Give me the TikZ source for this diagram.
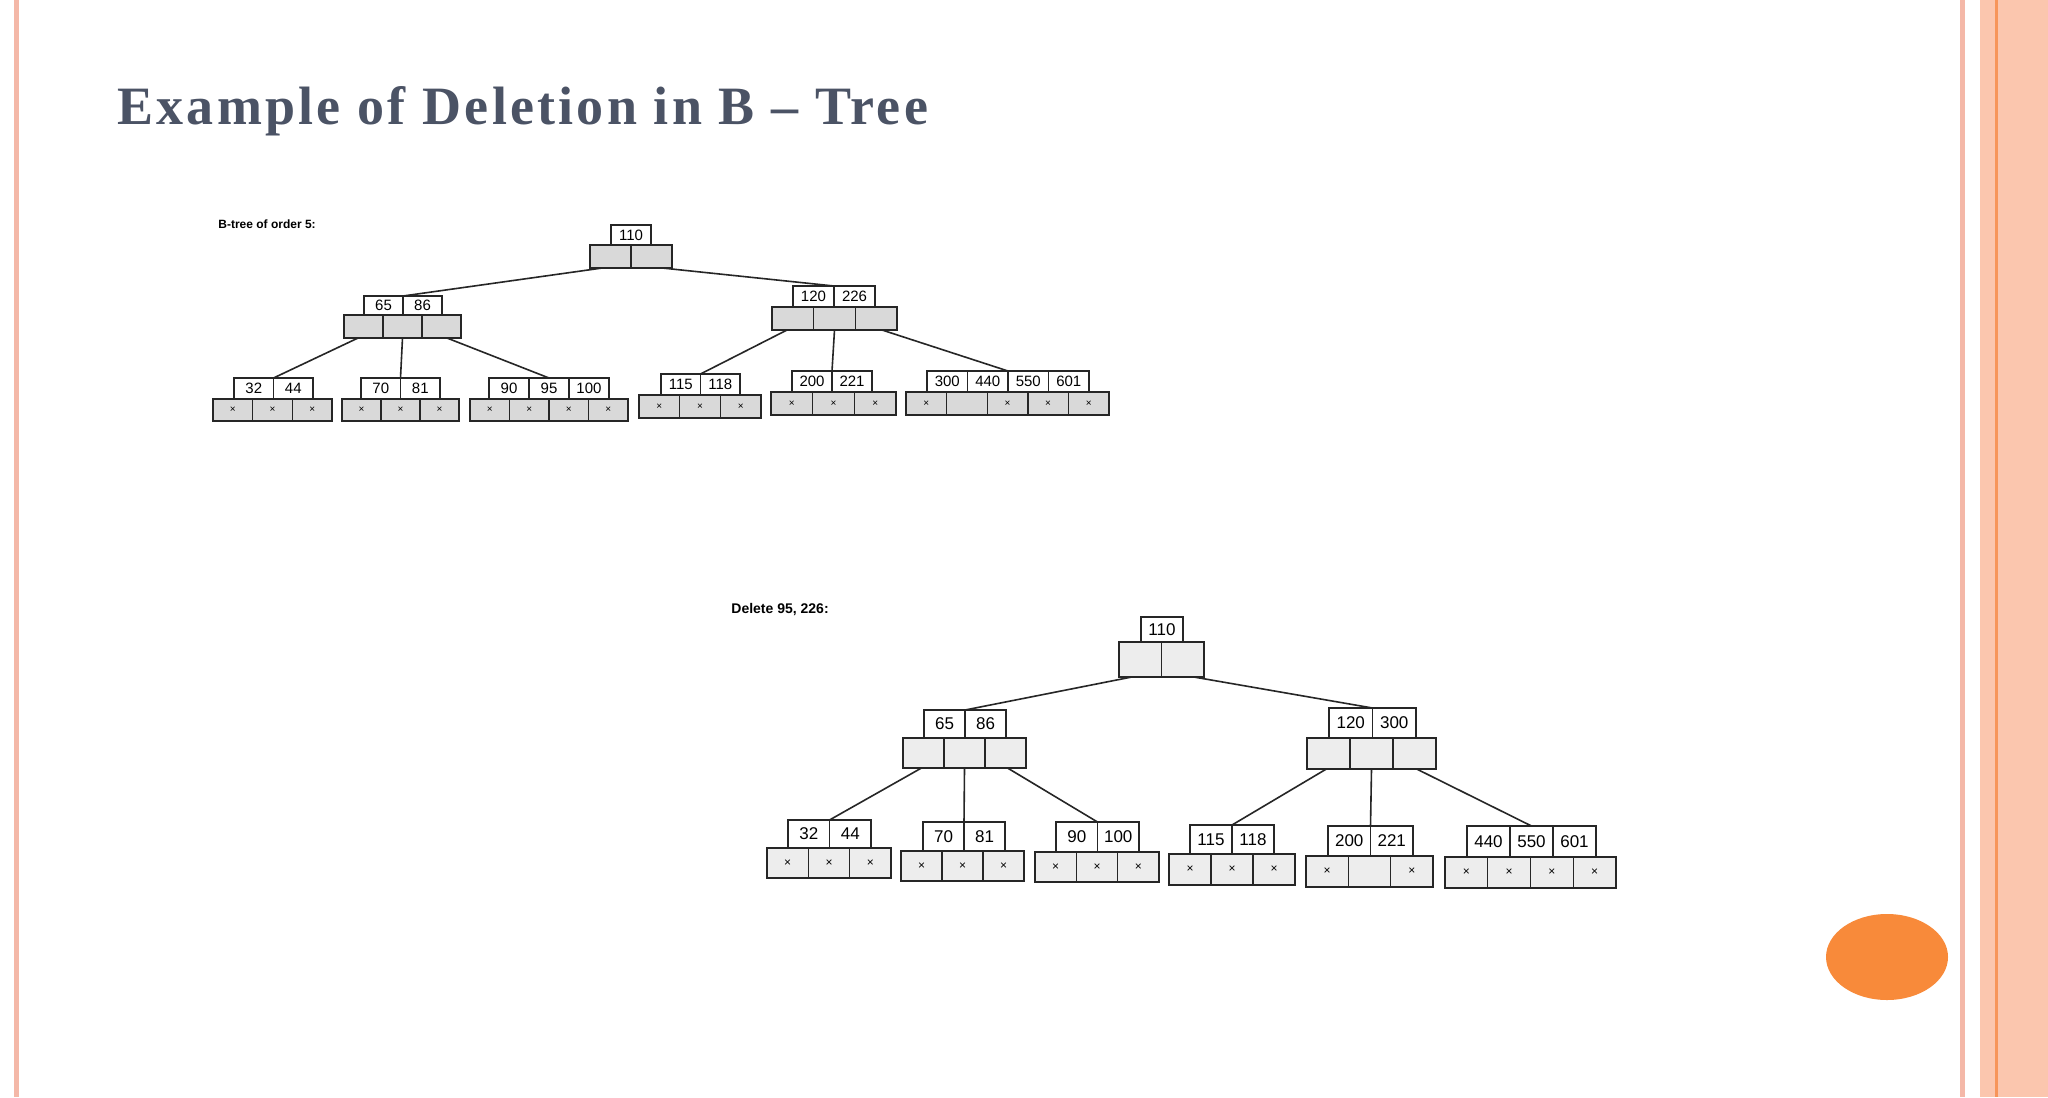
\documentclass[tikz,border=0pt]{standalone}
\usepackage{fontspec}
\setmainfont{Liberation Serif}
\setsansfont{Liberation Sans}
\usetikzlibrary{calc}
\definecolor{titlec}{HTML}{4B5365}
\definecolor{pinkline}{HTML}{F4B8A8}
\definecolor{peach}{HTML}{FBC6AE}
\definecolor{orangeln}{HTML}{F7955A}
\definecolor{orangeb}{HTML}{F88A3A}
\definecolor{ptrA}{HTML}{D9D9D9}
\definecolor{ptrB}{HTML}{EDEDED}
\tikzset{cellrow/.style={draw=black!85,line width=0.7pt,inner sep=0pt,outer sep=0pt},
 edge/.style={draw=black!85,line width=0.8pt}}
\newcommand\brow[9]{%
 \pgfmathsetmacro\bw{(#4-#2)/2}\pgfmathsetmacro\bh{(#5-#3)/2}%
 \node[cellrow,fill=#8,minimum width=\bw pt,minimum height=\bh pt] (#1) at ({(#2+#4)/2},{(#3+#5)/2}) {};
 \foreach \tx [count=\i] in {#7} {
   \pgfmathsetmacro\cx{#2+(\i-0.5)*(#4-#2)/#6}
   \node[font=\sffamily\fontsize{#9}{#9}\selectfont,inner sep=0pt] at (\cx,{(#3+#5)/2}) {\tx};
   \ifnum\i<#6 \draw[draw=black!85,line width=0.7pt] ({#2+\i*(#4-#2)/#6},#3) -- ({#2+\i*(#4-#2)/#6},#5);\fi
 }}
\newcommand\ed[4]{\draw[edge] ($(#1.south west)!#2!(#1.south east)$) -- (#3.north);}
\begin{document}
\begin{tikzpicture}[x=0.5pt,y=-0.5pt]
\useasboundingbox (0,0) rectangle (2048,1097);
\fill[white] (0,0) rectangle (2048,1097);
% borders
\fill[pinkline] (14,0) rectangle (19,1097);
\fill[pinkline] (1960,0) rectangle (1965,1097);
\fill[peach] (1980,0) rectangle (2048,1097);
\fill[orangeln] (1995,0) rectangle (1998,1097);
% title
\node[anchor=west,text=titlec,font=\bfseries\fontsize{27}{27}\selectfont,inner sep=0pt] (title) at (117,111) {\addfontfeature{LetterSpace=6}Example of Deletion in B – Tree};
% orange ellipse
\fill[orangeb] (1887,957) ellipse (61 and 43);
% ---------- top tree
\node[anchor=west,font=\sffamily\bfseries\fontsize{6}{6}\selectfont,inner sep=0pt] (lab1) at (218,224) {B-tree of order 5:};
\brow{rk}{611}{225}{651}{245}{1}{110}{white}{7.5}
\brow{rp}{590}{245}{672}{268}{2}{,}{ptrA}{7.5}
\brow{ak}{364}{296}{442}{315}{2}{65,86}{white}{7.5}
\brow{ap}{344}{315}{461}{338}{3}{,,}{ptrA}{7.5}
\brow{bk}{793}{286}{875}{307}{2}{120,226}{white}{7.5}
\brow{bp}{772}{307}{897}{330}{3}{,,}{ptrA}{7.5}
\brow{l1k}{234}{378}{313}{399}{2}{32,44}{white}{7.5}
\brow{l1p}{213}{399}{332}{421}{3}{×,×,×}{ptrA}{5}
\brow{l2k}{361}{378}{440}{399}{2}{70,81}{white}{7.5}
\brow{l2p}{342}{399}{459}{421}{3}{×,×,×}{ptrA}{5}
\brow{l3k}{489}{378}{609}{399}{3}{90,95,100}{white}{7.5}
\brow{l3p}{470}{399}{628}{421}{4}{×,×,×,×}{ptrA}{5}
\brow{l4k}{661}{374}{740}{395}{2}{115,118}{white}{7.5}
\brow{l4p}{639}{395}{761}{418}{3}{×,×,×}{ptrA}{5}
\brow{l5k}{792}{371}{872}{392}{2}{200,221}{white}{7.5}
\brow{l5p}{771}{392}{896}{415}{3}{×,×,×}{ptrA}{5}
\brow{l6k}{927}{371}{1089}{392}{4}{300,440,550,601}{white}{7.5}
\brow{l6p}{906}{392}{1109}{415}{5}{×,,×,×,×}{ptrA}{5}
\ed{rp}{0.15}{ak}{}\ed{rp}{0.88}{bk}{}
\ed{ap}{0.12}{l1k}{}\ed{ap}{0.5}{l2k}{}\ed{ap}{0.88}{l3k}{}
\ed{bp}{0.12}{l4k}{}\ed{bp}{0.5}{l5k}{}\ed{bp}{0.88}{l6k}{}
% ---------- bottom tree
\node[anchor=west,font=\sffamily\bfseries\fontsize{7}{7}\selectfont,inner sep=0pt] (lab2) at (731,610) {Delete 95, 226:};
\brow{Rk}{1141}{617}{1183}{642}{1}{110}{white}{8.5}
\brow{Rp}{1119}{642}{1204}{677}{2}{,}{ptrB}{8.5}
\brow{Ak}{924}{710}{1006}{738}{2}{65,86}{white}{8.5}
\brow{Ap}{903}{738}{1026}{768}{3}{,,}{ptrB}{8.5}
\brow{Bk}{1329}{708}{1416}{738}{2}{120,300}{white}{8.5}
\brow{Bp}{1307}{738}{1436}{769}{3}{,,}{ptrB}{8.5}
\brow{L1k}{788}{820}{871}{848}{2}{32,44}{white}{8.5}
\brow{L1p}{767}{848}{891}{878}{3}{×,×,×}{ptrB}{6}
\brow{L2k}{923}{822}{1005}{851}{2}{70,81}{white}{8.5}
\brow{L2p}{901}{851}{1024}{881}{3}{×,×,×}{ptrB}{6}
\brow{L3k}{1056}{822}{1139}{852}{2}{90,100}{white}{8.5}
\brow{L3p}{1035}{852}{1159}{882}{3}{×,×,×}{ptrB}{6}
\brow{L4k}{1190}{825}{1274}{854}{2}{115,118}{white}{8.5}
\brow{L4p}{1169}{854}{1295}{885}{3}{×,×,×}{ptrB}{6}
\brow{L5k}{1328}{826}{1413}{856}{2}{200,221}{white}{8.5}
\brow{L5p}{1306}{856}{1433}{887}{3}{×,,×}{ptrB}{6}
\brow{L6k}{1467}{826}{1596}{857}{3}{440,550,601}{white}{8.5}
\brow{L6p}{1445}{857}{1616}{888}{4}{×,×,×,×}{ptrB}{6}
\ed{Rp}{0.15}{Ak}{}\ed{Rp}{0.88}{Bk}{}
\ed{Ap}{0.15}{L1k}{}\ed{Ap}{0.5}{L2k}{}\ed{Ap}{0.85}{L3k}{}
\ed{Bp}{0.15}{L4k}{}\ed{Bp}{0.5}{L5k}{}\ed{Bp}{0.85}{L6k}{}
\end{tikzpicture}
\end{document}
